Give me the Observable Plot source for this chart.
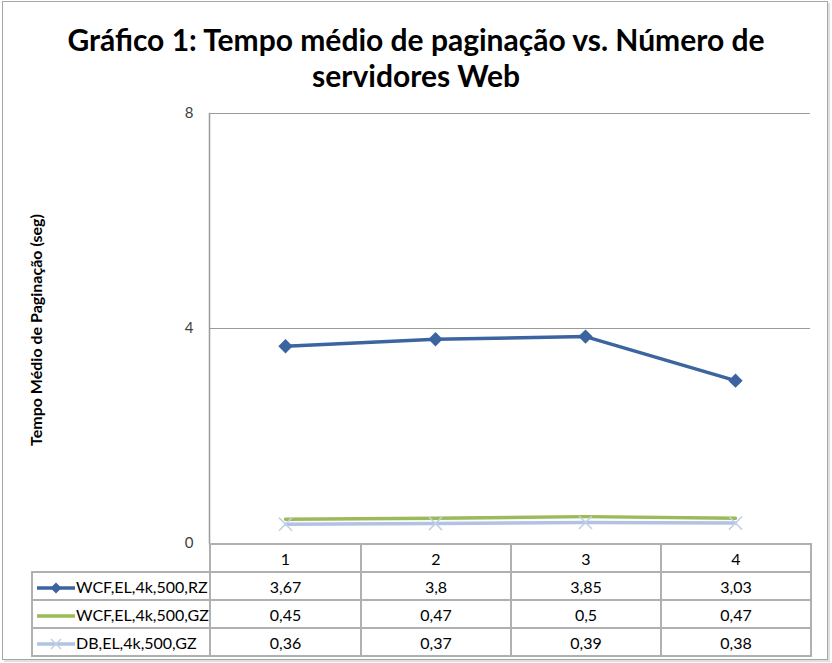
<!DOCTYPE html>
<html><head><meta charset="utf-8">
<script src="https://cdn.jsdelivr.net/npm/d3@7"></script>
<script src="https://cdn.jsdelivr.net/npm/@observablehq/plot@0.6"></script>
<style>
body{margin:0;background:#fff;font-family:Lato,"Open Sans",sans-serif;}
#wrap{position:relative;width:832px;height:663px;overflow:hidden;}
#frame{position:absolute;left:2px;top:1px;width:824px;height:657px;border:1px solid #a6a6a6;box-shadow:2px 2px 1px #e0e0e0;}
#title{position:absolute;left:0;top:21px;width:832px;text-align:center;font-weight:bold;font-size:30px;line-height:36px;color:#000;}
#ylabel{position:absolute;left:35px;top:330px;transform:translate(-50%,-50%) rotate(-90deg);font-weight:bold;font-size:16px;white-space:nowrap;color:#000;}
#chart{position:absolute;left:0;top:95px;}
#tbl{position:absolute;left:31px;top:543px;border-collapse:collapse;table-layout:fixed;font-size:16px;color:#000;}
#tbl td{border:2px solid #b0b0b0;text-align:center;padding:0;height:26px;}
#tbl td.lab{text-align:left;padding-left:3px;white-space:nowrap;}
#tbl td.blank{border:none;border-bottom:2px solid #b0b0b0;}
#tbl svg{vertical-align:middle;}
</style></head>
<body><div id="wrap">
<div id="frame"></div>
<div id="title"></div>
<div id="ylabel"></div>
<div id="chart"></div>
<table id="tbl"></table>
</div>
<script>
const titleLines = ["Gráfico 1: Tempo médio de paginação vs. Número de", "servidores Web"];
const yLabel = "Tempo Médio de Paginação (seg)";
const servers = ["1", "2", "3", "4"];
const seriesNames = ["WCF,EL,4k,500,RZ", "WCF,EL,4k,500,GZ", "DB,EL,4k,500,GZ"];
const rzValues = [3.67, 3.8, 3.85, 3.03];
const gzValues = [0.45, 0.47, 0.5, 0.47];
const dbValues = [0.36, 0.37, 0.39, 0.38];
const tableLabels = [["3,67", "3,8", "3,85", "3,03"], ["0,45", "0,47", "0,5", "0,47"], ["0,36", "0,37", "0,39", "0,38"]];
const yTicks = [0, 4, 8];
const colors = ["#3b64a0", "#9bbb59", "#b1c3e3"];

document.getElementById("title").innerHTML = titleLines.join("<br>");
document.getElementById("ylabel").textContent = yLabel;

const allValues = [rzValues, gzValues, dbValues];
const data = [];
allValues.forEach((vals, i) => vals.forEach((v, j) => data.push({series: seriesNames[i], server: servers[j], value: v, idx: i})));
const rz = data.filter(d => d.idx === 0), gz = data.filter(d => d.idx === 1), db = data.filter(d => d.idx === 2);

const chart = Plot.plot({
  width: 832, height: 470,
  marginLeft: 209, marginRight: 22, marginTop: 18, marginBottom: 22,
  style: {fontFamily: "Lato, 'Open Sans', sans-serif", background: "transparent"},
  x: {type: "point", domain: servers, padding: 0.5, axis: null},
  y: {domain: [0, 8], axis: null},
  marks: [
    Plot.ruleY(yTicks.filter(t => t > 0), {stroke: "#9a9a9a", strokeWidth: 1.2}),
    Plot.axisY({ticks: yTicks, tickSize: 0, tickPadding: 16, fontSize: 15, color: "#404040", label: null}),
    Plot.frame({anchor: "left", stroke: "#9a9a9a", strokeWidth: 1.5}),
    Plot.line(rz, {x: "server", y: "value", stroke: colors[0], strokeWidth: 3.5}),
    Plot.dot(rz, {x: "server", y: "value", symbol: "diamond2", r: 5.5, fill: colors[0], stroke: colors[0]}),
    Plot.line(gz, {x: "server", y: "value", stroke: colors[1], strokeWidth: 3.5}),
    Plot.line(db, {x: "server", y: "value", stroke: colors[2], strokeWidth: 3.5}),
    Plot.dot(db, {x: "server", y: "value", symbol: "times", r: 6, stroke: "#c3cfe4", strokeWidth: 1.5})
  ]
});
document.getElementById("chart").appendChild(chart);

function swatch(i) {
  let s = `<svg width="40" height="14"><line x1="1" x2="39" y1="7" y2="7" stroke="${colors[i]}" stroke-width="3.5"/>`;
  if (i === 0) s += `<path d="M20,1.5 L25.5,7 L20,12.5 L14.5,7 Z" fill="${colors[0]}"/>`;
  if (i === 2) s += `<path d="M15,2 L25,12 M25,2 L15,12" stroke="#c3cfe4" stroke-width="1.5"/>`;
  return s + "</svg>";
}
const tbl = document.getElementById("tbl");
let html = `<colgroup><col style="width:178px"><col style="width:151px"><col style="width:150px"><col style="width:150px"><col style="width:150px"></colgroup>`;
html += `<tr><td class="blank"></td>` + servers.map(s => `<td>${s}</td>`).join("") + `</tr>`;
seriesNames.forEach((n, i) => {
  html += `<tr><td class="lab">${swatch(i)}${n}</td>` + tableLabels[i].map(v => `<td>${v}</td>`).join("") + `</tr>`;
});
tbl.innerHTML = html;
</script>
</body></html>
